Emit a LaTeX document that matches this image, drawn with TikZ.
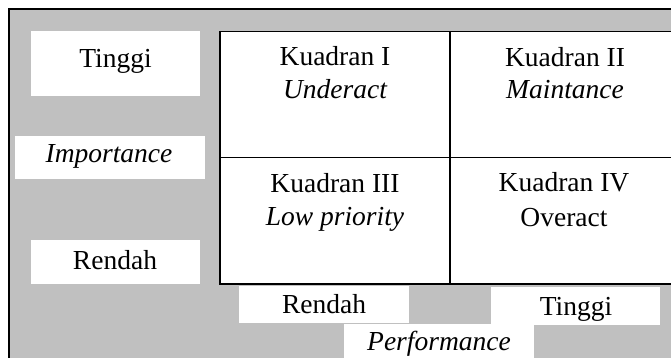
\documentclass[tikz,border=0pt]{standalone}
\usepackage{fontspec}
\setmainfont{Liberation Serif}
\definecolor{bggray}{RGB}{192,192,192}
\begin{document}
\begin{tikzpicture}[x=1pt,y=-1pt,
  lbl/.style={fill=white, draw=none, inner sep=0pt, anchor=north west},
  cell/.style={fill=white, draw=black, line width=1.5pt, inner sep=0pt, anchor=north west, minimum height=126pt},
  txt/.style={anchor=base, inner sep=0pt, font=\fontsize{27.5}{33}\selectfont},
  itxt/.style={txt, font=\fontsize{27.5}{33}\selectfont\itshape}]
\useasboundingbox (0,0) rectangle (671,358);
\clip (0,0) rectangle (671,358);
\fill[white] (0,0) rectangle (671,358);
\draw[fill=bggray, line width=1.5pt] (9,9) rectangle (700,400);
% quadrant cells
\node[cell, minimum width=230pt] (q1) at (219,31) {};
\node[cell, minimum width=232pt] (q2) at (449,31) {};
\node[cell, minimum width=230pt] (q3) at (219,157) {};
\node[cell, minimum width=232pt] (q4) at (449,157) {};
% label boxes
\node[lbl, minimum width=169pt, minimum height=65pt] (tlbox) at (31,31) {};
\node[lbl, minimum width=190pt, minimum height=43pt] (impbox) at (15,136) {};
\node[lbl, minimum width=169pt, minimum height=44pt] (rlbox) at (31,240) {};
\node[lbl, minimum width=170pt, minimum height=37pt] (rbbox) at (239,286) {};
\node[lbl, minimum width=169pt, minimum height=38pt] (tbbox) at (491,287) {};
\node[lbl, minimum width=190pt, minimum height=40pt] (perfbox) at (344,324) {};
% texts
\node[txt] (tl) at (115.5,68) {Tinggi};
\node[itxt] (imp) at (109,163) {Importance};
\node[txt] (rl) at (115,269) {Rendah};
\node[txt] (rb) at (324,313) {Rendah};
\node[txt] (tb) at (576,315) {Tinggi};
\node[itxt] (perf) at (439,350) {Performance};
\node[txt] (k1) at (335,66) {Kuadran I};
\node[itxt] (k1b) at (335,99) {Underact};
\node[txt] (k2) at (565,67) {Kuadran II};
\node[itxt] (k2b) at (565,99) {Maintance};
\node[txt] (k3) at (335,192) {Kuadran III};
\node[itxt] (k3b) at (335,225) {Low priority};
\node[txt] (k4) at (564,191) {Kuadran IV};
\node[txt] (k4b) at (564,226) {Overact};
\end{tikzpicture}
\end{document}
